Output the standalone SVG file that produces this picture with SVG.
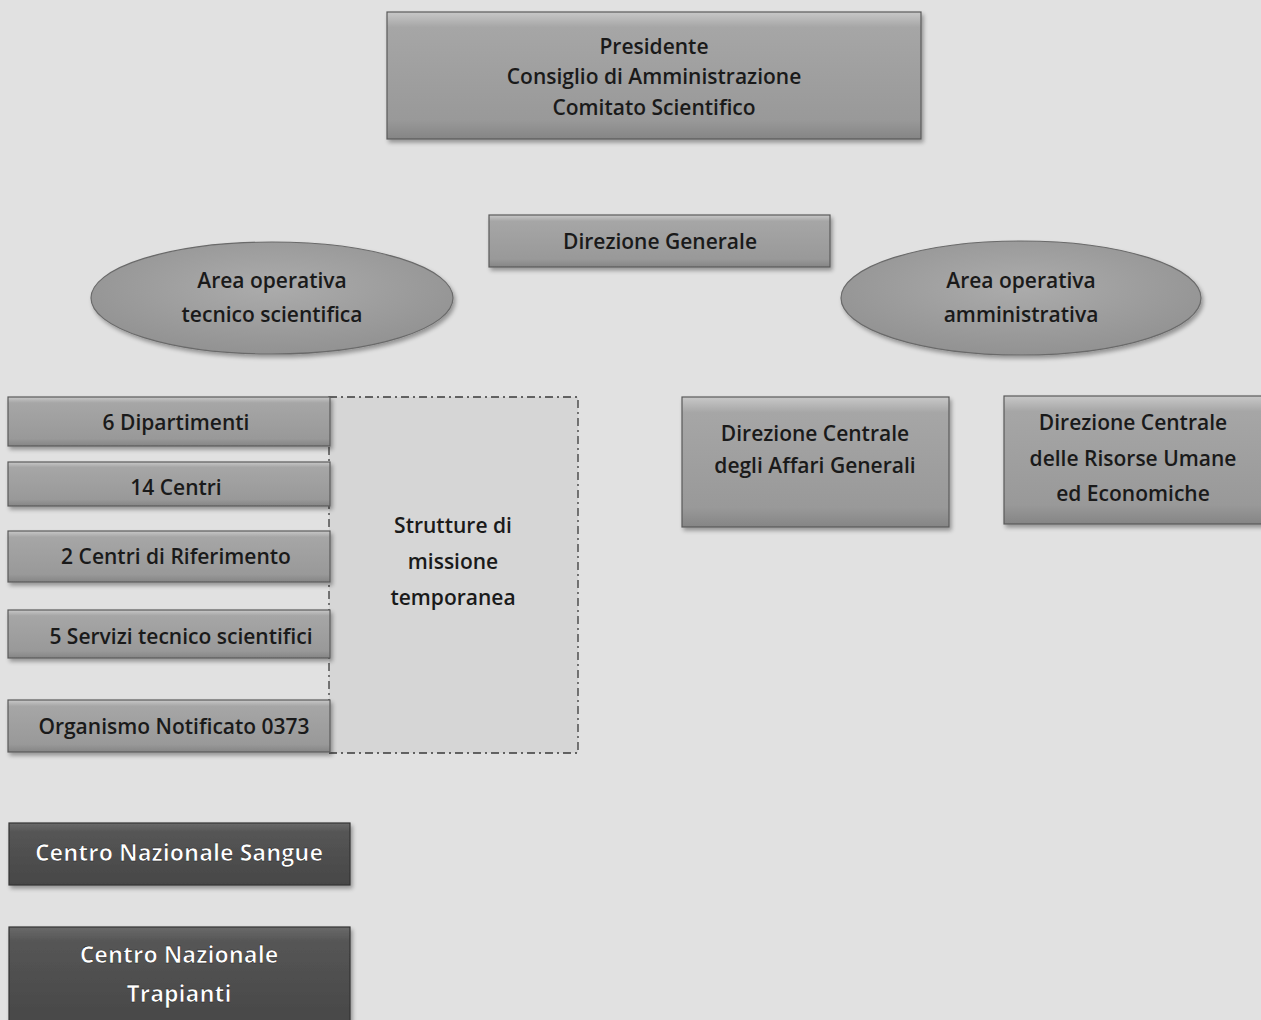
<svg xmlns="http://www.w3.org/2000/svg" width="1261" height="1020" viewBox="0 0 1261 1020">
<defs>
<linearGradient id="gBox" x1="0" y1="0" x2="0" y2="1">
<stop offset="0" stop-color="#c8c8c8"/>
<stop offset="0.12" stop-color="#a6a6a6"/>
<stop offset="0.85" stop-color="#999999"/>
<stop offset="1" stop-color="#858585"/>
</linearGradient>
<linearGradient id="gDark" x1="0" y1="0" x2="0" y2="1">
<stop offset="0" stop-color="#6a6a6a"/>
<stop offset="0.15" stop-color="#555555"/>
<stop offset="1" stop-color="#474747"/>
</linearGradient>
<radialGradient id="gEll" cx="0.5" cy="0.4" r="0.6">
<stop offset="0" stop-color="#acacac"/>
<stop offset="1" stop-color="#929292"/>
</radialGradient>
<filter id="sh" x="-5%" y="-10%" width="115%" height="130%">
<feGaussianBlur in="SourceAlpha" stdDeviation="2"/>
<feOffset dx="2" dy="3"/>
<feComponentTransfer><feFuncA type="linear" slope="0.35"/></feComponentTransfer>
<feMerge><feMergeNode/><feMergeNode in="SourceGraphic"/></feMerge>
</filter>
</defs>
<style>
.box{fill:url(#gBox);stroke:#5a5a5a;stroke-width:1.2;filter:url(#sh)}
.dark{fill:url(#gDark);stroke:#333;stroke-width:1.2;filter:url(#sh)}
.ell{fill:url(#gEll);stroke:#6a6a6a;stroke-width:1.2;filter:url(#sh)}
.t{font-family:"Open Sans","Liberation Sans",sans-serif;font-size:21px;font-weight:600;fill:#1a1a1a;text-anchor:middle}
.tw{font-family:"Open Sans","Liberation Sans",sans-serif;font-size:23px;font-weight:bold;fill:#ffffff;stroke:#222;stroke-width:0.6;text-anchor:middle}
</style>
<rect width="1261" height="1020" fill="#e1e1e1"/>
<g id="connectors"/>
<g id="top">
<rect class="box" x="387" y="12" width="534" height="127"/>
<text class="t" x="654" y="54">Presidente</text>
<text class="t" x="654" y="84">Consiglio di Amministrazione</text>
<text class="t" x="654" y="115">Comitato Scientifico</text>
</g>
<g id="dirgen">
<rect class="box" x="489" y="215" width="341" height="52"/>
<text class="t" x="660" y="249">Direzione Generale</text>
</g>
<g id="area-tec">
<ellipse class="ell" cx="272" cy="298" rx="181" ry="56"/>
<text class="t" x="272" y="288">Area operativa</text>
<text class="t" x="272" y="322">tecnico scientifica</text>
</g>
<g id="area-amm">
<ellipse class="ell" cx="1021" cy="298" rx="180" ry="57"/>
<text class="t" x="1021" y="288">Area operativa</text>
<text class="t" x="1021" y="322">amministrativa</text>
</g>
<g id="strutture">
<rect x="329" y="397" width="249" height="356" fill="#d6d6d6" stroke="#3a3a3a" stroke-width="1.3" stroke-dasharray="8,4,2,4"/>
<text class="t" x="453" y="533">Strutture di</text>
<text class="t" x="453" y="569">missione</text>
<text class="t" x="453" y="605">temporanea</text>
</g>
<g id="dip">
<rect class="box" x="8" y="397" width="322" height="49"/>
<text class="t" x="176" y="430">6 Dipartimenti</text>
</g>
<g id="centri">
<rect class="box" x="8" y="462" width="322" height="44"/>
<text class="t" x="176" y="495">14 Centri</text>
</g>
<g id="rif">
<rect class="box" x="8" y="531" width="322" height="51"/>
<text class="t" x="176" y="564">2 Centri di Riferimento</text>
</g>
<g id="servizi">
<rect class="box" x="8" y="610" width="322" height="48"/>
<text class="t" x="181" y="644">5 Servizi tecnico scientifici</text>
</g>
<g id="organismo">
<rect class="box" x="8" y="700" width="322" height="52"/>
<text class="t" x="174" y="734">Organismo Notificato 0373</text>
</g>
<g id="affari">
<rect class="box" x="682" y="397" width="267" height="130"/>
<text class="t" x="815" y="441">Direzione Centrale</text>
<text class="t" x="815" y="473">degli Affari Generali</text>
</g>
<g id="risorse">
<rect class="box" x="1004" y="396" width="262" height="128"/>
<text class="t" x="1133" y="430">Direzione Centrale</text>
<text class="t" x="1133" y="466">delle Risorse Umane</text>
<text class="t" x="1133" y="501">ed Economiche</text>
</g>
<g id="sangue">
<rect class="dark" x="9" y="823" width="341" height="62"/>
<text class="tw" x="179" y="861">Centro Nazionale Sangue</text>
</g>
<g id="trapianti">
<rect class="dark" x="9" y="927" width="341" height="100"/>
<text class="tw" x="179" y="963">Centro Nazionale</text>
<text class="tw" x="179" y="1002">Trapianti</text>
</g>
</svg>
